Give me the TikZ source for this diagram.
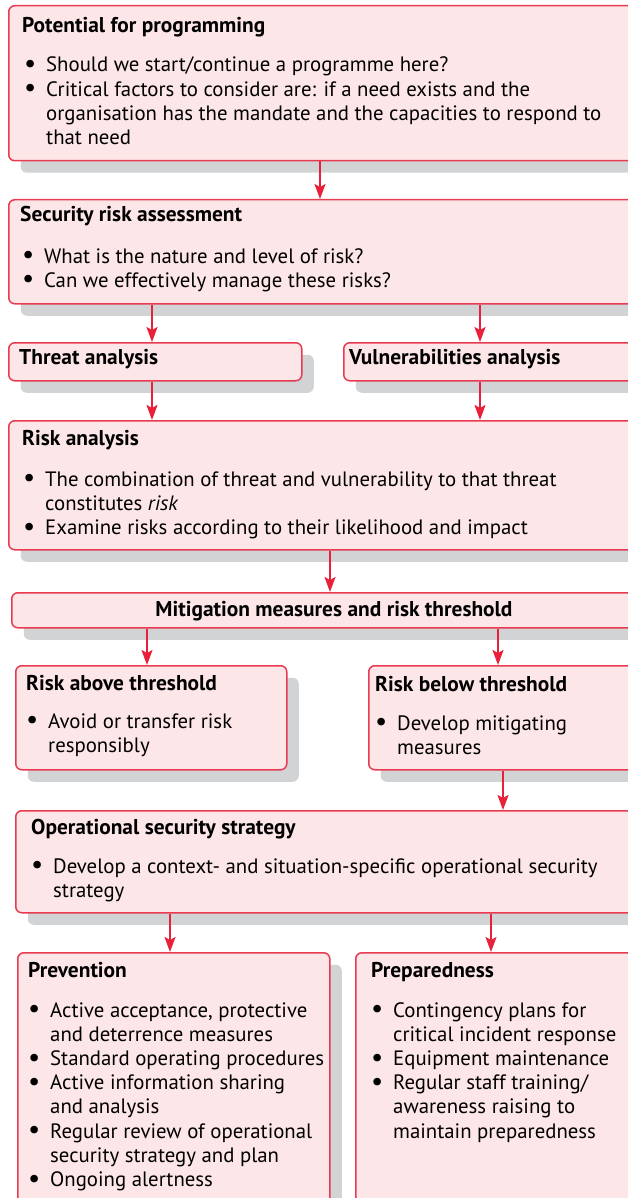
\documentclass[tikz,border=0pt]{standalone}
\usepackage{fontspec}
\usepackage{graphicx}
\setmainfont{PT Sans}
\usetikzlibrary{arrows.meta,shadows}
\definecolor{boxfill}{HTML}{FDE6E8}
\definecolor{boxline}{HTML}{E83A50}
\definecolor{shade}{HTML}{D1D3D4}
\definecolor{arrowred}{HTML}{E8203A}
\newcommand\bt[1]{\begin{tabular}[t]{@{}p{16pt}@{}l@{}}#1\end{tabular}}
\newcommand\bu{\makebox[0pt][c]{\smash{\raisebox{-0.6pt}{\scalebox{1.3}{\textbullet}}}}}
\begin{document}
\begin{tikzpicture}[x=1pt,y=-1pt,
  box/.style={draw=boxline, fill=boxfill, line width=1.5pt, rounded corners=6pt,
    anchor=north west, inner sep=0pt,
    drop shadow={shadow xshift=12pt, shadow yshift=-12pt, fill=shade, opacity=1}},
  ttl/.style={anchor=base west, inner sep=0pt, font=\fontsize{21.4}{24}\selectfont\bfseries},
  body/.style={anchor=base west, inner sep=0pt, font=\fontsize{20.8}{24.2}\selectfont},
  arr/.style={draw=arrowred, line width=1.8pt, -{Stealth[length=15pt,width=11pt,inset=3pt]}}]
\useasboundingbox (0,0) rectangle (628,1198);
\clip (0,0) rectangle (628,1198);

% boxes
\node[box, minimum width=632pt, minimum height=155pt] (b1) at (8,5) {};
\node[box, minimum width=632pt, minimum height=104pt] (b2) at (8,199) {};
\node[box, minimum width=293pt, minimum height=38pt] (threat) at (8,342) {};
\node[box, minimum width=297pt, minimum height=38pt] (vuln) at (343,342) {};
\node[box, minimum width=632pt, minimum height=129pt] (risk) at (8,420) {};
\node[box, minimum width=629pt, minimum height=35pt] (mitig) at (11,592) {};
\node[box, minimum width=271pt, minimum height=104pt] (above) at (15,665) {};
\node[box, minimum width=272pt, minimum height=104pt] (below) at (368,665) {};
\node[box, minimum width=625pt, minimum height=102pt] (ops) at (15,810) {};
\node[box, minimum width=312pt, minimum height=260pt] (prev) at (17,952) {};
\node[box, minimum width=285pt, minimum height=260pt] (prep) at (355,952) {};

% texts
\node[ttl] (t1) at (22,33) {Potential for programming};
\node[body] (x1) at (30,72) {\bt{\bu & Should we start/continue a programme here?\\
 \bu & Critical factors to consider are: if a need exists and the\\
 & organisation has the mandate and the capacities to respond to\\
 & that need}};

\node[ttl] (t2) at (20,222) {Security risk assessment};
\node[body] (x2) at (28,263) {\bt{\bu & What is the nature and level of risk?\\
 \bu & Can we effectively manage these risks?}};

\node[ttl] (t3) at (19,364) {Threat analysis};
\node[ttl] (t4) at (349,364) {Vulnerabilities analysis};

\node[ttl] (t5) at (22,445) {Risk analysis};
\node[body] (x5) at (29,486) {\bt{\bu & The combination of threat and vulnerability to that threat\\
 & constitutes \textit{risk}\\
 \bu & Examine risks according to their likelihood and impact}};

\node[ttl, anchor=base] (t6) at (334,616) {Mitigation measures and risk threshold};

\node[ttl] (t7) at (26,690) {Risk above threshold};
\node[body] (x7) at (32,728) {\bt{\bu & Avoid or transfer risk\\
 & responsibly}};

\node[ttl] (t8) at (375,691) {Risk below threshold};
\node[body] (x8) at (381,730) {\bt{\bu & Develop mitigating\\
 & measures}};

\node[ttl] (t9) at (31,834) {Operational security strategy};
\node[body] (x9) at (37,873) {\bt{\bu & Develop a context- and situation-specific operational security\\
 & strategy}};

\node[ttl] (t10) at (28,977) {Prevention};
\node[body] (x10) at (34,1017) {\bt{\bu & Active acceptance, protective\\
 & and deterrence measures\\
 \bu & Standard operating procedures\\
 \bu & Active information sharing\\
 & and analysis\\
 \bu & Regular review of operational\\
 & security strategy and plan\\
 \bu & Ongoing alertness}};

\node[ttl] (t11) at (371,977) {Preparedness};
\node[body] (x11) at (377,1017) {\bt{\bu & Contingency plans for\\
 & critical incident response\\
 \bu & Equipment maintenance\\
 \bu & Regular staff training/\\
 & awareness raising to\\
 & maintain preparedness}};

% arrows
\draw[arr] ([xshift=312pt]b1.south west) -- ([xshift=312pt]b2.north west);
\draw[arr] ([xshift=144pt]b2.south west) -- ([xshift=144pt]threat.north west);
\draw[arr] ([xshift=472pt]b2.south west) -- ([xshift=137pt]vuln.north west);
\draw[arr] ([xshift=144pt]threat.south west) -- ([xshift=144pt]risk.north west);
\draw[arr] ([xshift=137pt]vuln.south west) -- ([xshift=472pt]risk.north west);
\draw[arr] ([xshift=322pt]risk.south west) -- ([xshift=319pt]mitig.north west);
\draw[arr] ([xshift=136pt]mitig.south west) -- ([xshift=132pt]above.north west);
\draw[arr] ([xshift=487pt]mitig.south west) -- ([xshift=130pt]below.north west);
\draw[arr] ([xshift=135pt]below.south west) -- ([xshift=488pt]ops.north west);
\draw[arr] ([xshift=155pt]ops.south west) -- ([xshift=153pt]prev.north west);
\draw[arr] ([xshift=476pt]ops.south west) -- ([xshift=136pt]prep.north west);
\end{tikzpicture}
\end{document}
